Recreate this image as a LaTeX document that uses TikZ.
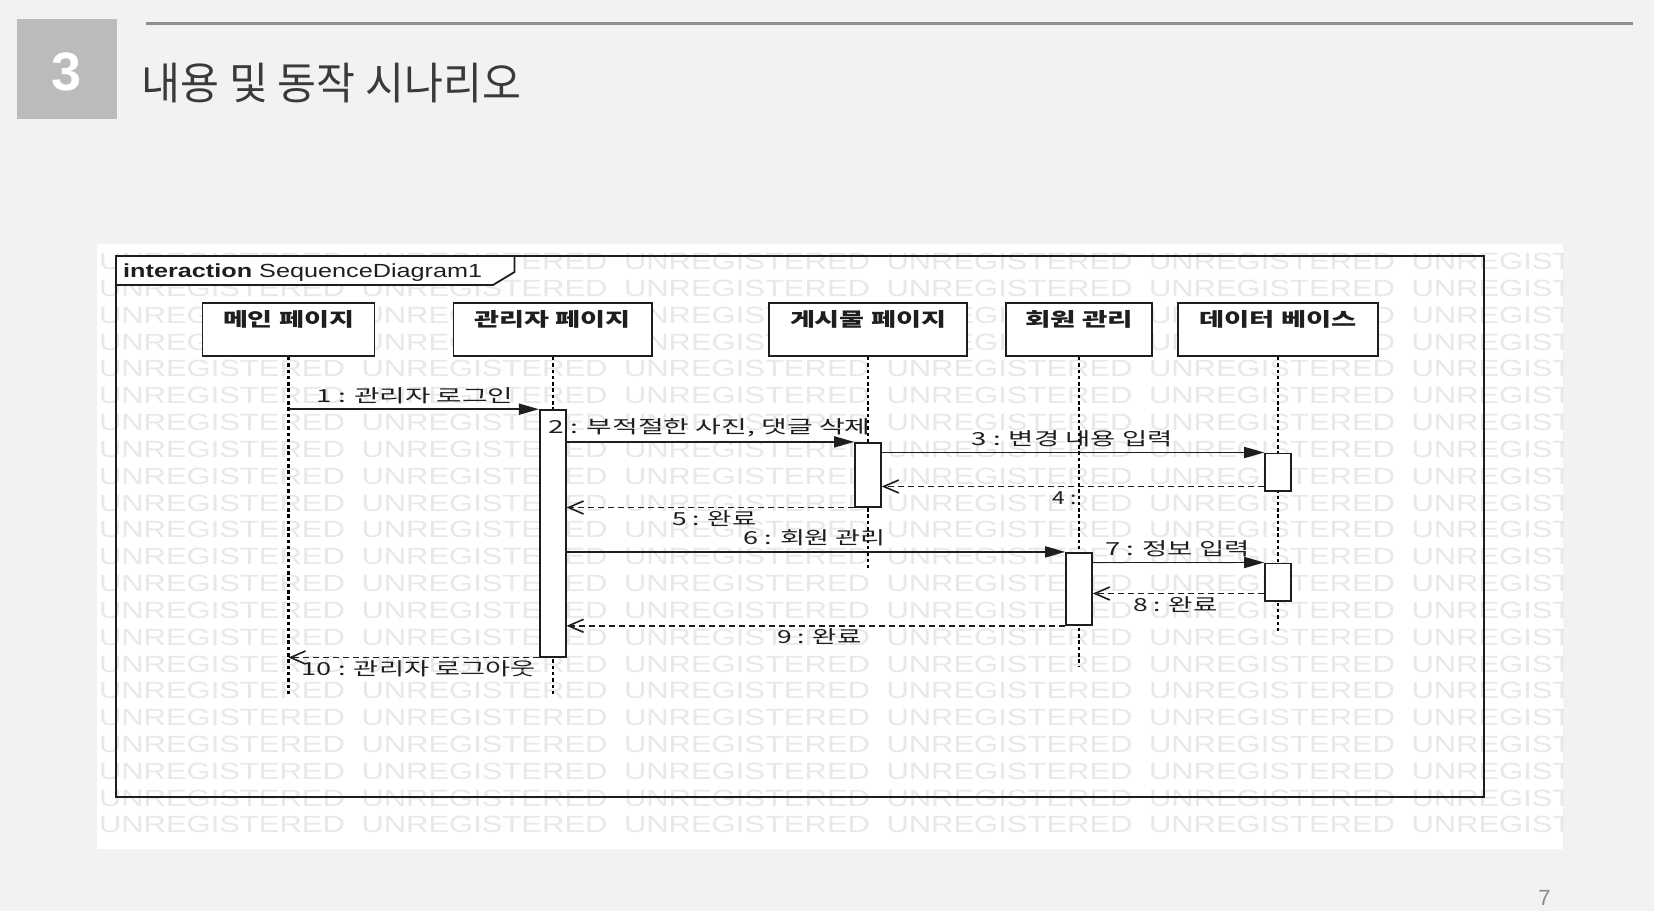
\documentclass[tikz,border=0pt]{standalone}
\usepackage{fontspec}
\setmainfont{Liberation Sans}
\newfontfamily\kr{Noto Sans CJK KR}
\usetikzlibrary{arrows.meta}
\definecolor{bg}{HTML}{F2F2F2}
\definecolor{numbox}{HTML}{B9BCBB}
\definecolor{rulec}{HTML}{8A9090}
\definecolor{ttl}{HTML}{3A3A3A}
\definecolor{dl}{HTML}{1E1E1E}
\definecolor{wmc}{HTML}{E8E8E8}
\definecolor{pnum}{HTML}{8C8C8C}
\newcommand{\fitw}[2]{\resizebox{#1pt}{\height}{#2}}
\begin{document}
\begin{tikzpicture}[x=1pt,y=-1pt,
  wmtext/.style={anchor=west, inner sep=0, text=wmc, font=\fontsize{23.5}{26}\selectfont},
  lifebox/.style={draw=dl, line width=1.8pt, fill=white, inner sep=0, minimum height=53pt},
  lname/.style={inner sep=0, text=dl, font=\kr\bfseries\fontsize{19}{22}\selectfont},
  lifeline/.style={draw=black, line width=2.2pt, dash pattern=on 3.5pt off 2.8pt},
  actbox/.style={draw=dl, line width=1.6pt, fill=white, inner sep=0, minimum width=26pt},
  sync/.style={draw=dl, line width=1.6pt, -{Triangle[length=20pt,width=11pt]}},
  reply/.style={draw=dl, line width=1.4pt, dash pattern=on 6pt off 4pt, -{Straight Barb[length=15pt,width=13pt,line width=1.6pt]}},
  msglbl/.style={inner sep=0, text=dl, font=\kr\fontsize{18}{21}\selectfont},
]
% page
\fill[bg] (0,0) rectangle (1654,911);
\useasboundingbox (0,0) rectangle (1654,911);
\fill[numbox] (17,19) rectangle (117,119);
\node[inner sep=0, text=white, font=\bfseries\fontsize{54}{60}\selectfont] (num) at (67,72) {3};
\draw[rulec, line width=3pt] (146,23) -- (1633,23);
\node[inner sep=0, text=ttl, font=\kr\fontsize{44}{50}\selectfont] (title) at (331.5,83) {\fitw{379}{내용 및 동작 시나리오}};
\node[inner sep=0, text=pnum, font=\fontsize{22}{26}\selectfont] (pg) at (1544.5,898) {7};

% diagram area
\fill[white] (97,244) rectangle (1563,849);
\begin{scope}
  \clip (97,244) rectangle (1563,849);
  \foreach \r in {0,...,21}
    \foreach \c in {0,...,5}
      \node[wmtext] at ({98.8+262.5*\c},{261.6+26.82*\r}) {\fitw{246}{UNREGISTERED}};
\end{scope}

% frame
\draw[dl, line width=2pt] (116,256) rectangle (1484,796.5);
\filldraw[fill=white, draw=dl, line width=1.8pt] (116,256) -- (514.5,256) -- (514.5,272) -- (493,285) -- (116,285) -- cycle;
\node[anchor=base west, inner sep=0, text=dl, font=\fontsize{19}{22}\selectfont] (ftitle) at (123,277) {\fitw{359}{\textbf{interaction} SequenceDiagram1}};

% lifeline heads
\node[lifebox, minimum width=172pt] (main) at (288.5,329.5) {};
\node[lifebox, minimum width=198.5pt] (admin) at (552.75,329.5) {};
\node[lifebox, minimum width=198pt] (board) at (868,329.5) {};
\node[lifebox, minimum width=146pt] (member) at (1079,329.5) {};
\node[lifebox, minimum width=200pt] (db) at (1278,329.5) {};
\node[lname] (mainN) at (288.5,319) {\fitw{131}{메인 페이지}};
\node[lname] (adminN) at (552.75,319) {\fitw{156}{관리자 페이지}};
\node[lname] (boardN) at (868,319) {\fitw{156}{게시물 페이지}};
\node[lname] (memberN) at (1079,319) {\fitw{108}{회원 관리}};
\node[lname] (dbN) at (1278,319) {\fitw{157}{데이터 베이스}};

% lifelines
\coordinate (mainE) at (288.5,697);
\coordinate (adminE) at (552.75,697);
\coordinate (boardE) at (868,570);
\coordinate (memberE) at (1079,666);
\coordinate (dbE) at (1278,633);
\draw[lifeline] (main.south) -- (mainE);
\draw[lifeline] (admin.south) -- (adminE);
\draw[lifeline] (board.south) -- (boardE);
\draw[lifeline] (member.south) -- (memberE);
\draw[lifeline] (db.south) -- (dbE);

% activations
\node[actbox, minimum height=246.7pt] (actA) at (552.75,533.35) {};
\node[actbox, minimum height=64pt] (actB) at (868,474.7) {};
\node[actbox, minimum height=37.4pt] (actD1) at (1278,472) {};
\node[actbox, minimum height=72.3pt] (actC) at (1079,588.85) {};
\node[actbox, minimum height=37.4pt] (actD2) at (1278,582) {};

% messages
\draw[sync] (main.south |- actA.north) -- (actA.north west);
\draw[sync] (actA.east |- actB.north) -- (actB.north west);
\draw[sync] (actB.east |- actD1.north) -- (actD1.north west);
\coordinate (r4) at ([yshift=5pt]actD1.south west);
\draw[reply] (r4) -- (r4 -| actB.east);
\draw[reply] (actB.south west) -- (actB.south west -| actA.east);
\draw[sync] (actA.east |- actC.north) -- (actC.north west);
\draw[sync] (actC.east |- actD2.north) -- (actD2.north west);
\coordinate (r8) at ([yshift=8pt]actD2.south west);
\draw[reply] (r8) -- (r8 -| actC.east);
\draw[reply] (actC.south west) -- (actC.south west -| actA.east);
\draw[reply] (actA.south west) -- (actA.south west -| main.south);

% message labels
\node[msglbl] (l1) at (415,396) {\fitw{197}{1 : 관리자 로그인}};
\node[msglbl] (l2) at (709.7,428) {\fitw{322}{2 : 부적절한 사진, 댓글 삭제}};
\node[msglbl] (l3) at (1072.3,438.5) {\fitw{201}{3 : 변경 내용 입력}};
\node[msglbl] (l4) at (1064.8,498) {\fitw{24}{4 :}};
\node[msglbl] (l5) at (714.3,518.5) {\fitw{84}{5 : 완료}};
\node[msglbl] (l6) at (814.6,538) {\fitw{142.5}{6 : 회원 관리}};
\node[msglbl] (l7) at (1177.6,549) {\fitw{144.5}{7 : 정보 입력}};
\node[msglbl] (l8) at (1175.3,604.7) {\fitw{84.5}{8 : 완료}};
\node[msglbl] (l9) at (819.3,636.6) {\fitw{84.4}{9 : 완료}};
\node[msglbl] (l10) at (418.8,669) {\fitw{234}{10 : 관리자 로그아웃}};
\end{tikzpicture}
\end{document}
